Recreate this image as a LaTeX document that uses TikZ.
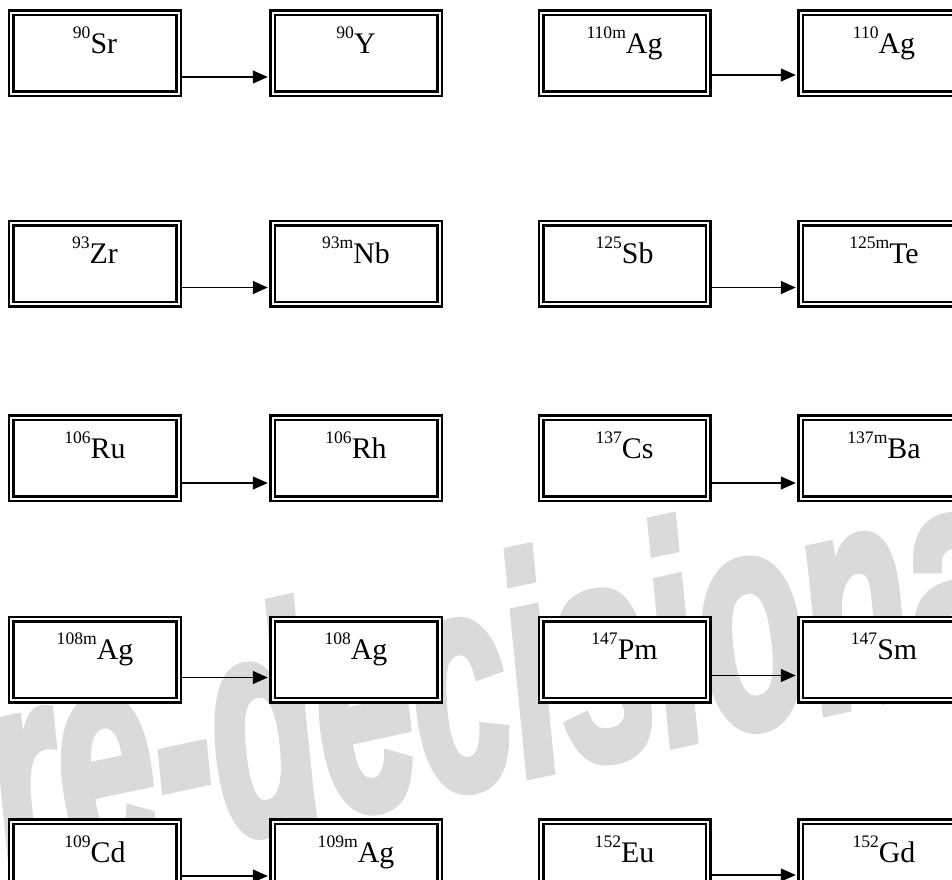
\documentclass[tikz,border=0pt]{standalone}
\usepackage{fontspec}
\setmainfont{Liberation Serif}
\newfontface\wmfont[FakeBold=3]{Liberation Sans Bold Italic}
\usepackage{xcolor}
\usepackage{tikz}
\usetikzlibrary{arrows.meta,positioning}

\definecolor{wmgray}{RGB}{218,218,218}
\newcommand{\nuc}[2]{\raisebox{0.5em}{\fontsize{10}{10}\selectfont #1}#2}

\begin{document}
\begin{tikzpicture}[
    node distance=1.8cm,
    nuclide/.style={rectangle, draw, double, double distance=0.04cm, line width=0.05cm, fill=white, minimum width=3.34cm, inner sep=0pt, text height=0.816cm, text depth=0.804cm, font=\fontsize{17}{20}\selectfont},
    decay/.style={-{Triangle[length=0.3cm, width=0.26cm]}, line width=0.03cm, shorten >=0.07cm},
    watermark/.style={font=\wmfont\fontsize{100}{100}\selectfont, text=wmgray, anchor=base west, inner sep=0pt, rotate=12, yscale=1.75}
]
    \useasboundingbox (0,0) rectangle (19.04,-17.6);
    \clip (0,0) rectangle (19.04,-17.6);

    % Wasserzeichen
    \node[watermark] (wm) at (-2.1,-18.2) {Pre-decisional};

    % linke Spalte
    \node[nuclide] (sr90) at (1.9,-1.06) {\nuc{90}{Sr}};
    \node[nuclide, below=2.54cm of sr90] (zr93) {\nuc{93}{Zr}};
    \node[nuclide, below=2.22cm of zr93] (ru106) {\nuc{106}{Ru}};
    \node[nuclide, below=2.36cm of ru106] (ag108m) {\nuc{108m}{Ag}};
    \node[nuclide, below=2.38cm of ag108m] (cd109) {\nuc{109}{Cd}};

    \node[nuclide, right=1.83cm of sr90] (y90) {\nuc{90}{Y}};
    \node[nuclide, right=1.83cm of zr93] (nb93m) {\nuc{93m}{Nb}};
    \node[nuclide, right=1.83cm of ru106] (rh106) {\nuc{106}{Rh}};
    \node[nuclide, right=1.83cm of ag108m] (ag108) {\nuc{108}{Ag}};
    \node[nuclide, right=1.83cm of cd109] (ag109m) {\nuc{109m}{Ag}};

    % rechte Spalte
    \node[nuclide, right=1.98cm of y90] (ag110m) {\nuc{110m}{Ag}};
    \node[nuclide, right=1.98cm of nb93m] (sb125) {\nuc{125}{Sb}};
    \node[nuclide, right=1.98cm of rh106] (cs137) {\nuc{137}{Cs}};
    \node[nuclide, right=1.98cm of ag108] (pm147) {\nuc{147}{Pm}};
    \node[nuclide, right=1.98cm of ag109m] (eu152) {\nuc{152}{Eu}};

    \node[nuclide, right=of ag110m] (ag110) {\nuc{110}{Ag}};
    \node[nuclide, right=of sb125] (te125m) {\nuc{125m}{Te}};
    \node[nuclide, right=of cs137] (ba137m) {\nuc{137m}{Ba}};
    \node[nuclide, right=of pm147] (sm147) {\nuc{147}{Sm}};
    \node[nuclide, right=of eu152] (gd152) {\nuc{152}{Gd}};

    % Zerfaelle
    \draw[decay] ([yshift=-0.48cm]sr90.east) -- ([yshift=-0.48cm]y90.west);
    \draw[decay] ([yshift=-0.48cm]zr93.east) -- ([yshift=-0.48cm]nb93m.west);
    \draw[decay] ([yshift=-0.5cm]ru106.east) -- ([yshift=-0.5cm]rh106.west);
    \draw[decay] ([yshift=-0.36cm]ag108m.east) -- ([yshift=-0.36cm]ag108.west);
    \draw[decay] ([yshift=-0.28cm]cd109.east) -- ([yshift=-0.28cm]ag109m.west);

    \draw[decay] ([yshift=-0.44cm]ag110m.east) -- ([yshift=-0.44cm]ag110.west);
    \draw[decay] ([yshift=-0.48cm]sb125.east) -- ([yshift=-0.48cm]te125m.west);
    \draw[decay] ([yshift=-0.5cm]cs137.east) -- ([yshift=-0.5cm]ba137m.west);
    \draw[decay] ([yshift=-0.32cm]pm147.east) -- ([yshift=-0.32cm]sm147.west);
    \draw[decay] ([yshift=-0.26cm]eu152.east) -- ([yshift=-0.26cm]gd152.west);
\end{tikzpicture}
\end{document}
